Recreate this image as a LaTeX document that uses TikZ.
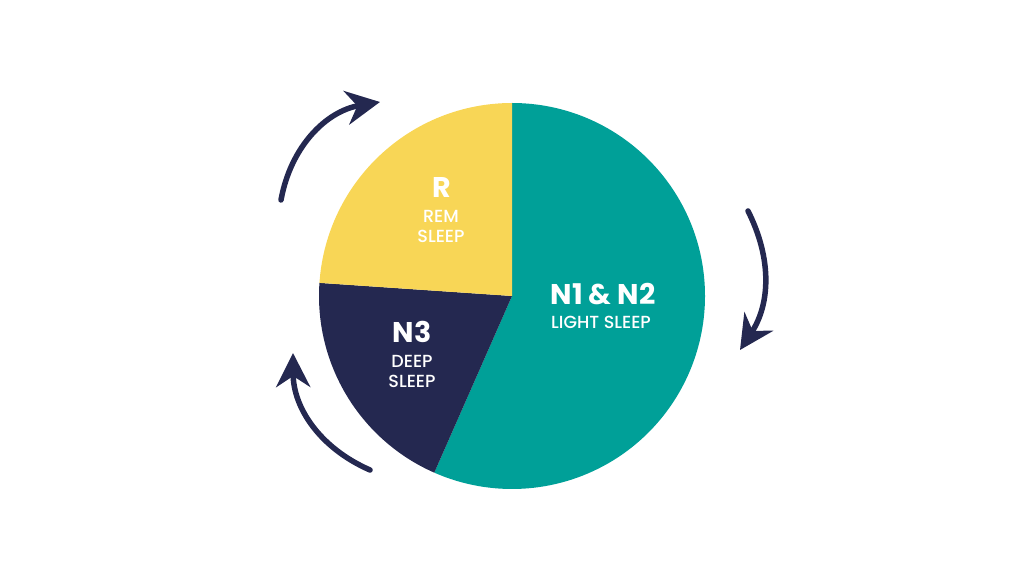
\documentclass[tikz,border=0pt]{standalone}
\usepackage{fontspec}
\setmainfont{Poppins}
\newfontfamily\popmed{Poppins Medium}
\usetikzlibrary{arrows.meta}

\definecolor{sleepteal}{HTML}{00A098}
\definecolor{sleepyellow}{HTML}{F8D656}
\definecolor{sleepnavy}{HTML}{242850}

\tikzset{
  cyclearrow/.style={sleepnavy, line width=5.5pt, line cap=round,
    -{Stealth[length=34pt, width=34pt, inset=11pt]}},
  stagename/.style={text=white, inner sep=0pt, font=\fontsize{28.5}{30}\selectfont\bfseries},
  stagetext/.style={text=white, inner sep=0pt, align=center, font=\fontsize{17.5}{20}\selectfont\popmed}
}

\begin{document}
\begin{tikzpicture}[x=1pt, y=1pt]
        \useasboundingbox (0, 0) rectangle (1024, 576);
        \coordinate (centre) at (512, 280);

        % pie of the sleep stages
        \fill[sleepteal] (centre) -- ++(90:193) arc (90:-113.75:193) -- cycle;
        \fill[sleepnavy] (centre) -- ++(176.1:193) arc (176.1:246.25:193) -- cycle;
        \fill[sleepyellow] (centre) -- ++(90:193) arc (90:176.1:193) -- cycle;

        \node[stagename] (remname) at (442, 389) {R};
        \node[stagetext] (remtext) at (441, 350) {REM\\SLEEP};
        \node[stagename] (lightname) at (603, 282) {N1 \& N2};
        \node[stagetext] (lighttext) at (601, 254) {LIGHT SLEEP};
        \node[stagename] (deepname) at (412, 244) {N3};
        \node[stagetext] (deeptext) at (412, 205) {DEEP\\SLEEP};

        % cycle arrows
        \coordinate (remtail) at (281, 376);
        \coordinate (remtip) at (380, 474);
        \coordinate (lighttail) at (748, 365);
        \coordinate (lighttip) at (740, 226);
        \coordinate (deeptail) at (370, 106);
        \coordinate (deeptip) at (293, 223);

        \draw[cyclearrow] (remtail) to[bend left=35] (remtip);
        \draw[cyclearrow] (lighttail) to[bend left=30] (lighttip);
        \draw[cyclearrow] (deeptail) to[bend left=33] (deeptip);
      \end{tikzpicture}
\end{document}
